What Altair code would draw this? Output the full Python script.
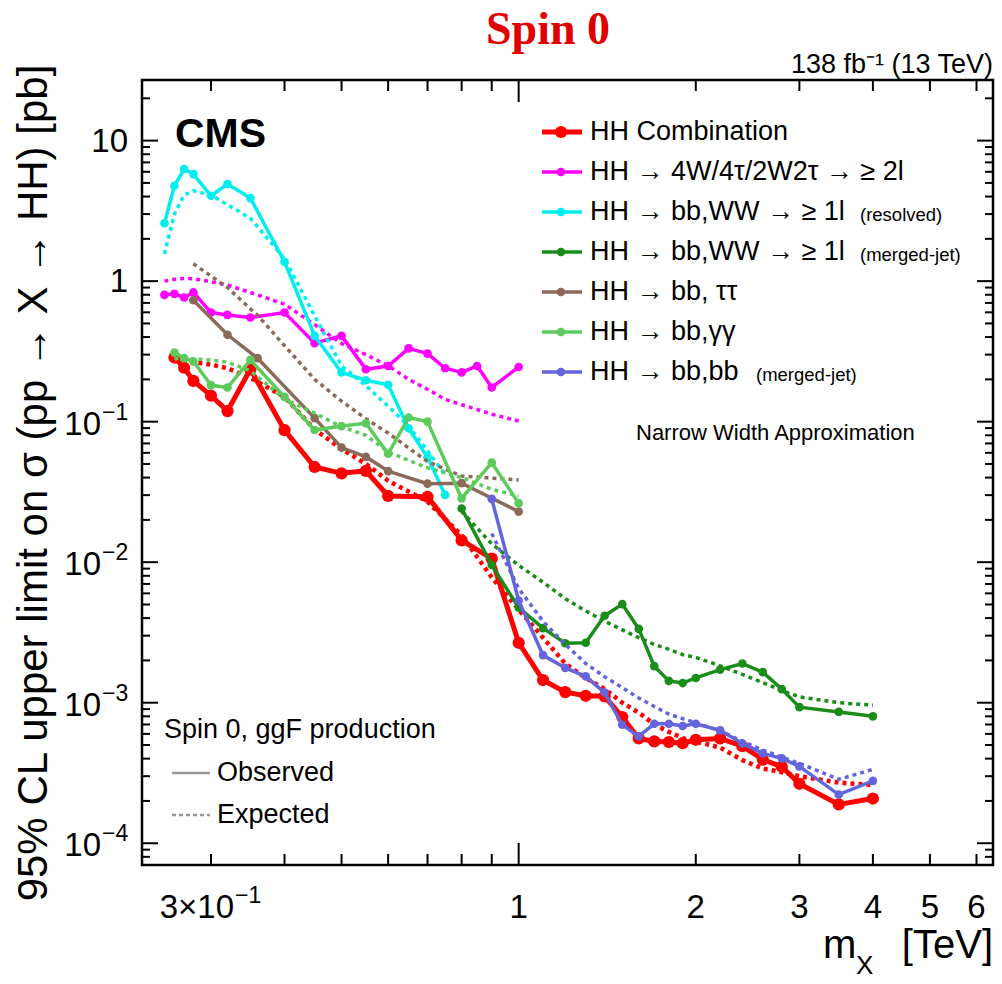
import altair as alt
import pandas as pd

# ---------------- data ----------------
comb_m = [0.26, 0.27, 0.28, 0.30, 0.32, 0.35, 0.40, 0.45, 0.50, 0.55, 0.60, 0.70, 0.80, 0.90,
          1.0, 1.1, 1.2, 1.3, 1.4, 1.5, 1.6, 1.7, 1.8, 1.9, 2.0, 2.2, 2.4, 2.6, 2.8, 3.0, 3.5, 4.0]
comb_obs = [0.286, 0.242, 0.195, 0.153, 0.119, 0.236, 0.087, 0.0476, 0.0429, 0.0447, 0.0296, 0.0292,
            0.0143, 0.0106, 0.00267, 0.00145, 0.00119, 0.00112, 0.00111, 0.00079, 0.000557, 0.00053,
            0.000525, 0.000515, 0.000545, 0.000557, 0.00049, 0.000394, 0.00035, 0.000265, 0.000189, 0.000208]
comb_exp = [0.27, 0.27, 0.265, 0.255, 0.24, 0.205, 0.15, 0.088, 0.064, 0.05, 0.038, 0.027, 0.0155,
            0.0078, 0.0046, 0.0029, 0.0019, 0.0015, 0.00125, 0.001, 0.00085, 0.0007, 0.00062, 0.00056,
            0.00053, 0.00048, 0.00039, 0.00034, 0.00032, 0.0003, 0.00027, 0.00026]

multi_m = [0.25, 0.26, 0.27, 0.28, 0.30, 0.32, 0.35, 0.40, 0.45, 0.50, 0.55, 0.60, 0.65, 0.70,
           0.75, 0.80, 0.85, 0.90, 1.0]
multi_obs = [0.799, 0.812, 0.765, 0.831, 0.598, 0.575, 0.551, 0.598, 0.362, 0.408, 0.236, 0.249,
             0.332, 0.305, 0.240, 0.224, 0.249, 0.175, 0.245]
multi_exp = [1.0, 1.03, 1.045, 1.04, 0.99, 0.94, 0.83, 0.686, 0.49, 0.36, 0.30, 0.25, 0.20, 0.17,
             0.144, 0.132, 0.122, 0.113, 0.101]

res_m = [0.25, 0.26, 0.27, 0.28, 0.30, 0.32, 0.35, 0.40, 0.45, 0.50, 0.55, 0.60, 0.65, 0.70, 0.75]
res_obs = [2.58, 4.77, 6.28, 5.78, 4.05, 4.91, 3.90, 1.37, 0.408, 0.224, 0.197, 0.183, 0.0897, 0.0557, 0.0301]
res_exp = [1.56, 3.0, 4.1, 4.4, 4.1, 3.5, 2.8, 1.45, 0.566, 0.25, 0.18, 0.129, 0.093, 0.062, 0.042]

mrg_m = [0.8, 0.9, 1.0, 1.1, 1.2, 1.3, 1.4, 1.5, 1.6, 1.7, 1.8, 1.9, 2.0, 2.2, 2.4, 2.6, 2.8, 3.0, 3.5, 4.0]
mrg_obs = [0.0241, 0.00955, 0.00475, 0.00339, 0.00265, 0.00267, 0.00416, 0.00503, 0.00335, 0.00182,
           0.00143, 0.00138, 0.0015, 0.00172, 0.0019, 0.00165, 0.00125, 0.00093, 0.00086, 0.0008]
mrg_exp = [0.023, 0.0135, 0.0095, 0.0072, 0.0055, 0.0045, 0.0038, 0.0033, 0.0029, 0.0026, 0.0024,
           0.0022, 0.0021, 0.00183, 0.00159, 0.00139, 0.00122, 0.0011, 0.001, 0.00096]

btt_m = [0.28, 0.32, 0.36, 0.45, 0.50, 0.55, 0.60, 0.70, 0.80, 1.0]
btt_obs = [0.732, 0.415, 0.283, 0.106, 0.0654, 0.0562, 0.0445, 0.0362, 0.0365, 0.0229]
btt_exp = [1.33, 0.90, 0.57, 0.20, 0.14, 0.105, 0.083, 0.052, 0.041, 0.0385]

bgg_m = [0.26, 0.27, 0.28, 0.30, 0.32, 0.35, 0.40, 0.45, 0.50, 0.55, 0.60, 0.65, 0.70, 0.80, 0.90, 1.0]
bgg_obs = [0.310, 0.283, 0.268, 0.182, 0.175, 0.275, 0.150, 0.0872, 0.093, 0.0974, 0.0591, 0.107,
           0.100, 0.0284, 0.0511, 0.0263]
bgg_exp = [0.28, 0.28, 0.28, 0.275, 0.265, 0.23, 0.145, 0.115, 0.092, 0.08, 0.061, 0.053, 0.047,
           0.04, 0.033, 0.0296]

b4b_m = [0.9, 1.0, 1.1, 1.2, 1.3, 1.4, 1.5, 1.6, 1.7, 1.8, 1.9, 2.0, 2.2, 2.4, 2.6, 2.8, 3.0, 3.5, 4.0]
b4b_obs = [0.0282, 0.00534, 0.00218, 0.00177, 0.00154, 0.00118, 0.000697, 0.000576, 0.000708, 0.000708,
           0.000683, 0.000708, 0.000636, 0.000513, 0.000436, 0.000402, 0.000352, 0.000222, 0.000278]
b4b_exp = [0.016, 0.0065, 0.0038, 0.0026, 0.0019, 0.00153, 0.00128, 0.00108, 0.00094, 0.00083,
           0.00077, 0.00072, 0.00063, 0.00053, 0.00046, 0.00041, 0.00037, 0.000285, 0.000335]

legend_labels = ["HH Combination", "HH \u2192 4W/4\u03c4/2W2\u03c4 \u2192 \u2265 2l",
                 "HH \u2192 bb,WW \u2192 \u2265 1l", "HH \u2192 bb,WW \u2192 \u2265 1l",
                 "HH \u2192 bb, \u03c4\u03c4", "HH \u2192 bb,\u03b3\u03b3", "HH \u2192 bb,bb"]
legend_notes = ["", "", "(resolved)", "(merged-jet)", "", "", "(merged-jet)"]

y_major = [1e-4, 1e-3, 1e-2, 1e-1, 1, 10]
y_major_base = ["10", "10", "10", "10", "1", "10"]
y_major_sup = ["\u22124", "\u22123", "\u22122", "\u22121", "", ""]
x_label_vals = [1, 2, 3, 4, 5, 6]
x_label_text = ["1", "2", "3", "4", "5", "6"]

# ---------------- styling / layout ----------------
W, H = 851, 785
L0, T0 = 142, 80          # plot origin in page pixels
XDOM = [0.229, 6.4]
YDOM = [7e-5, 27]
FONT = "Liberation Sans"

SERIES = [
    dict(m=comb_m, obs=comb_obs, exp=comb_exp, color="#ff0000", lw=5, ms=150, dw=4.5),
    dict(m=multi_m, obs=multi_obs, exp=multi_exp, color="#ff00ff", lw=3.5, ms=75, dw=3.5),
    dict(m=res_m, obs=res_obs, exp=res_exp, color="#00eeee", lw=3.5, ms=75, dw=3.5),
    dict(m=mrg_m, obs=mrg_obs, exp=mrg_exp, color="#1a8c1a", lw=3.5, ms=75, dw=3.5),
    dict(m=btt_m, obs=btt_obs, exp=btt_exp, color="#8c6a5a", lw=3.5, ms=75, dw=3.5),
    dict(m=bgg_m, obs=bgg_obs, exp=bgg_exp, color="#5ccb5c", lw=3.5, ms=75, dw=3.5),
    dict(m=b4b_m, obs=b4b_obs, exp=b4b_exp, color="#6464dc", lw=3.5, ms=75, dw=3.5),
]

xs = alt.Scale(type="log", domain=XDOM, nice=False)
ys = alt.Scale(type="log", domain=YDOM, nice=False)
dummy = pd.DataFrame({"a": [0]})


def X(field="m"):
    return alt.X(f"{field}:Q", scale=xs, axis=None)


def Y(field="v"):
    return alt.Y(f"{field}:Q", scale=ys, axis=None)


def txt(s, ax, ay, size, align="left", baseline="middle", **kw):
    return alt.Chart(dummy).mark_text(text=s, fontSize=size, align=align, baseline=baseline,
                                      font=kw.pop("font", FONT), **kw).encode(
        x=alt.value(ax - L0), y=alt.value(ay - T0))


layers = []

# data series
for s in SERIES:
    ex = pd.DataFrame({"m": s["m"], "v": s["exp"]})
    ob = pd.DataFrame({"m": s["m"], "v": s["obs"]})
    layers.append(alt.Chart(ex).mark_line(color=s["color"], strokeWidth=s["dw"], strokeDash=[4, 4])
                  .encode(x=X(), y=Y()))
    layers.append(alt.Chart(ob).mark_line(color=s["color"], strokeWidth=s["lw"]).encode(x=X(), y=Y()))
    layers.append(alt.Chart(ob).mark_circle(color=s["color"], size=s["ms"], opacity=1)
                  .encode(x=X(), y=Y()))

# ticks (ROOT style, pointing inward on all sides)
y_minor = [k * 10.0 ** e for e in range(-5, 2) for k in range(2, 10)
           if YDOM[0] <= k * 10.0 ** e <= YDOM[1]]
x_minor = [0.3, 0.4, 0.5, 0.6, 0.7, 0.8, 0.9, 2, 3, 4, 5, 6]
x_major = [1]
ymaj_df = pd.DataFrame({"v": y_major})
ymin_df = pd.DataFrame({"v": y_minor})
for df, ln in [(ymaj_df, 16), (ymin_df, 8)]:
    layers.append(alt.Chart(df).mark_rule(color="black", strokeWidth=2)
                  .encode(y=Y(), x=alt.value(0), x2=alt.value(ln)))
    layers.append(alt.Chart(df).mark_rule(color="black", strokeWidth=2)
                  .encode(y=Y(), x=alt.value(W - ln), x2=alt.value(W)))
for vals, ln in [(x_major, 22), (x_minor, 11)]:
    df = pd.DataFrame({"m": vals})
    layers.append(alt.Chart(df).mark_rule(color="black", strokeWidth=2)
                  .encode(x=X(), y=alt.value(H), y2=alt.value(H - ln)))
    layers.append(alt.Chart(df).mark_rule(color="black", strokeWidth=2)
                  .encode(x=X(), y=alt.value(0), y2=alt.value(ln)))

# y tick labels
ylab = pd.DataFrame({"v": y_major, "b": y_major_base, "s": y_major_sup})
ylab_plain = ylab[ylab["s"] == ""]
ylab_sup = ylab[ylab["s"] != ""]
layers.append(alt.Chart(ylab_plain).mark_text(fontSize=33, align="right", baseline="middle", font=FONT, dy=1)
              .encode(y=Y(), x=alt.value(-14), text="b:N"))
layers.append(alt.Chart(ylab_sup).mark_text(fontSize=33, align="right", baseline="middle", font=FONT, dy=3)
              .encode(y=Y(), x=alt.value(-41), text="b:N"))
layers.append(alt.Chart(ylab_sup).mark_text(fontSize=23, align="left", baseline="middle", font=FONT, dy=-9)
              .encode(y=Y(), x=alt.value(-40), text="s:N"))

# x tick labels
xlab = pd.DataFrame({"m": x_label_vals, "t": x_label_text})
layers.append(alt.Chart(xlab).mark_text(fontSize=33, align="center", baseline="middle", font=FONT)
              .encode(x=X(), y=alt.value(H + 43), text="t:N"))
x03 = pd.DataFrame({"m": [0.3], "b": ["3\u00d710"], "s": ["\u22121"]})
layers.append(alt.Chart(x03).mark_text(fontSize=33, align="right", baseline="middle", font=FONT, dx=23)
              .encode(x=X(), y=alt.value(H + 43), text="b:N"))
layers.append(alt.Chart(x03).mark_text(fontSize=23, align="left", baseline="middle", font=FONT, dx=24)
              .encode(x=X(), y=alt.value(H + 31), text="s:N"))

# axis titles
layers.append(alt.Chart(dummy).mark_text(text="95% CL upper limit on \u03c3 (pp \u2192 X \u2192 HH) [pb]",
                                         fontSize=42, angle=270, align="center", baseline="alphabetic",
                                         font=FONT)
              .encode(x=alt.value(47 - L0), y=alt.value(483 - T0)))
layers.append(txt("[TeV]", 993, 958, 40, align="right", baseline="alphabetic"))
layers.append(txt("m", 823, 958, 40, baseline="alphabetic"))
layers.append(txt("X", 856, 974, 26, baseline="alphabetic"))

# header texts
layers.append(txt("Spin 0", 548, 30, 46, align="center", font="Liberation Serif",
                  fontWeight="bold", color="#e00000"))
layers.append(txt("138 fb\u207b\u00b9 (13 TeV)", 993, 65, 27, align="right"))
layers.append(txt("CMS", 175, 135, 41, fontWeight="bold"))
layers.append(txt("Narrow Width Approximation", 636, 433, 22))

# series legend
for i, (lab, note, s) in enumerate(zip(legend_labels, legend_notes, SERIES)):
    yy = 132 + 40 * i - T0
    layers.append(alt.Chart(dummy).mark_rule(color=s["color"], strokeWidth=s["lw"])
                  .encode(x=alt.value(542 - L0), x2=alt.value(582 - L0), y=alt.value(yy)))
    layers.append(alt.Chart(dummy).mark_circle(color=s["color"], size=s["ms"], opacity=1)
                  .encode(x=alt.value(561 - L0), y=alt.value(yy)))
    layers.append(alt.Chart(dummy).mark_text(text=lab, fontSize=27, align="left", baseline="middle", font=FONT)
                  .encode(x=alt.value(590 - L0), y=alt.value(yy)))
    if note:
        nx = 860 if i in (2, 3) else 756
        layers.append(alt.Chart(dummy).mark_text(text=note, fontSize=18.5, align="left", baseline="middle",
                                                 font=FONT)
                      .encode(x=alt.value(nx - L0), y=alt.value(yy + 3)))

# observed / expected legend
layers.append(txt("Spin 0, ggF production", 164, 730, 27))
layers.append(alt.Chart(dummy).mark_rule(color="#999999", strokeWidth=2.5)
              .encode(x=alt.value(172 - L0), x2=alt.value(210 - L0), y=alt.value(773 - T0)))
layers.append(alt.Chart(dummy).mark_rule(color="#999999", strokeWidth=2.5, strokeDash=[4, 3])
              .encode(x=alt.value(172 - L0), x2=alt.value(210 - L0), y=alt.value(815 - T0)))
layers.append(txt("Observed", 217, 773, 27))
layers.append(txt("Expected", 217, 815, 27))

chart = alt.layer(*layers).properties(
    width=W, height=H,
    padding={"left": L0, "top": T0, "right": 1002 - L0 - W, "bottom": 984 - T0 - H},
    autosize=alt.AutoSizeParams(type="none"),
    background="white",
).configure_view(stroke="black", strokeWidth=2.5)

chart.save("out.html", embed_options={"renderer": "svg", "actions": False})
